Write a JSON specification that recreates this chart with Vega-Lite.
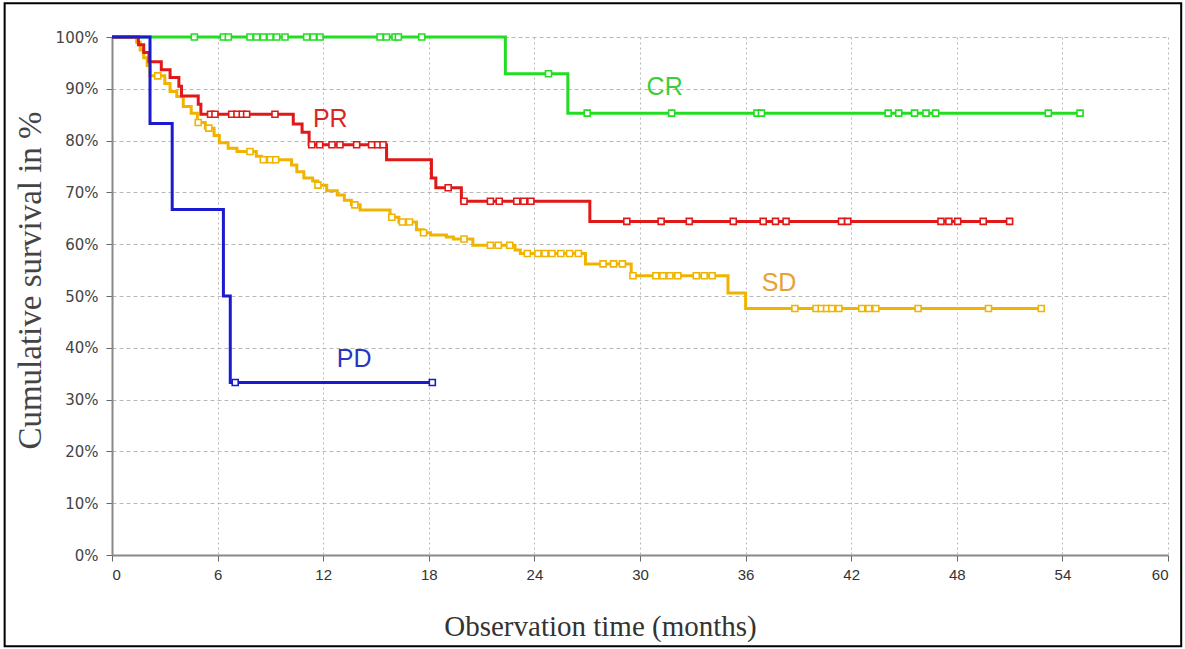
{
  "$schema": "https://vega.github.io/schema/vega-lite/v6.json",
  "width": 1056,
  "height": 518,
  "autosize": {"type": "none"},
  "padding": {"left": 112, "top": 37, "right": 17, "bottom": 94},
  "background": "white",
  "config": {"view": {"stroke": null}, "font": "Liberation Sans"},
  "datasets": {
    "curves": [
      {"group": "CR", "t": 0, "s": 100}, {"group": "CR", "t": 22.35, "s": 92.9}, {"group": "CR", "t": 25.9, "s": 85.3}, {"group": "CR", "t": 55.2, "s": 85.3},
      {"group": "SD", "t": 0, "s": 100}, {"group": "SD", "t": 1.4, "s": 99}, {"group": "SD", "t": 1.6, "s": 97.5}, {"group": "SD", "t": 1.8, "s": 96}, {"group": "SD", "t": 2.0, "s": 94.5}, {"group": "SD", "t": 2.16, "s": 92.5}, {"group": "SD", "t": 3.0, "s": 91}, {"group": "SD", "t": 3.3, "s": 89.5}, {"group": "SD", "t": 3.68, "s": 88.5}, {"group": "SD", "t": 4.05, "s": 86.6}, {"group": "SD", "t": 4.5, "s": 85.3}, {"group": "SD", "t": 4.85, "s": 83.5}, {"group": "SD", "t": 5.3, "s": 82.4}, {"group": "SD", "t": 5.8, "s": 81}, {"group": "SD", "t": 6.1, "s": 79.6}, {"group": "SD", "t": 6.6, "s": 78.5}, {"group": "SD", "t": 7.1, "s": 77.9}, {"group": "SD", "t": 8.2, "s": 77.0}, {"group": "SD", "t": 8.5, "s": 76.3}, {"group": "SD", "t": 10.2, "s": 75.3}, {"group": "SD", "t": 10.5, "s": 74.0}, {"group": "SD", "t": 10.9, "s": 72.8}, {"group": "SD", "t": 11.4, "s": 72.2}, {"group": "SD", "t": 11.7, "s": 71.4}, {"group": "SD", "t": 12.2, "s": 70.3}, {"group": "SD", "t": 12.8, "s": 69.5}, {"group": "SD", "t": 13.2, "s": 68.5}, {"group": "SD", "t": 13.6, "s": 67.6}, {"group": "SD", "t": 14.1, "s": 66.6}, {"group": "SD", "t": 15.8, "s": 65.2}, {"group": "SD", "t": 16.3, "s": 64.3}, {"group": "SD", "t": 17.3, "s": 62.8}, {"group": "SD", "t": 17.7, "s": 62.2}, {"group": "SD", "t": 18.1, "s": 61.8}, {"group": "SD", "t": 19.0, "s": 61.4}, {"group": "SD", "t": 19.4, "s": 61.0}, {"group": "SD", "t": 20.5, "s": 59.8}, {"group": "SD", "t": 22.9, "s": 58.9}, {"group": "SD", "t": 23.2, "s": 58.2}, {"group": "SD", "t": 26.9, "s": 56.2}, {"group": "SD", "t": 29.5, "s": 53.9}, {"group": "SD", "t": 35.0, "s": 50.6}, {"group": "SD", "t": 36.0, "s": 47.6}, {"group": "SD", "t": 53.0, "s": 47.6},
      {"group": "PR", "t": 0, "s": 100}, {"group": "PR", "t": 1.5, "s": 98.5}, {"group": "PR", "t": 1.8, "s": 97}, {"group": "PR", "t": 2.1, "s": 95.2}, {"group": "PR", "t": 2.8, "s": 93.7}, {"group": "PR", "t": 3.3, "s": 92.2}, {"group": "PR", "t": 3.8, "s": 90.5}, {"group": "PR", "t": 3.95, "s": 88.6}, {"group": "PR", "t": 4.9, "s": 87.0}, {"group": "PR", "t": 5.05, "s": 85.1}, {"group": "PR", "t": 10.3, "s": 83.2}, {"group": "PR", "t": 10.8, "s": 81.6}, {"group": "PR", "t": 11.2, "s": 79.2}, {"group": "PR", "t": 15.6, "s": 76.3}, {"group": "PR", "t": 18.15, "s": 72.8}, {"group": "PR", "t": 18.4, "s": 70.9}, {"group": "PR", "t": 19.85, "s": 68.3}, {"group": "PR", "t": 27.15, "s": 64.4}, {"group": "PR", "t": 51.1, "s": 64.4},
      {"group": "PD", "t": 0, "s": 100}, {"group": "PD", "t": 2.16, "s": 83.3}, {"group": "PD", "t": 3.42, "s": 66.7}, {"group": "PD", "t": 6.33, "s": 50}, {"group": "PD", "t": 6.72, "s": 33.3}, {"group": "PD", "t": 18.25, "s": 33.3}
    ],
    "censors": [
      {"group": "CR", "t": 4.68, "s": 100}, {"group": "CR", "t": 6.33, "s": 100}, {"group": "CR", "t": 6.61, "s": 100}, {"group": "CR", "t": 7.84, "s": 100}, {"group": "CR", "t": 8.22, "s": 100}, {"group": "CR", "t": 8.6, "s": 100}, {"group": "CR", "t": 8.98, "s": 100}, {"group": "CR", "t": 9.36, "s": 100}, {"group": "CR", "t": 9.83, "s": 100}, {"group": "CR", "t": 11.06, "s": 100}, {"group": "CR", "t": 11.44, "s": 100}, {"group": "CR", "t": 11.82, "s": 100}, {"group": "CR", "t": 15.23, "s": 100}, {"group": "CR", "t": 15.6, "s": 100}, {"group": "CR", "t": 16.08, "s": 100}, {"group": "CR", "t": 16.27, "s": 100}, {"group": "CR", "t": 17.6, "s": 100},
      {"group": "CR", "t": 24.8, "s": 92.9},
      {"group": "CR", "t": 27.0, "s": 85.3}, {"group": "CR", "t": 31.8, "s": 85.3}, {"group": "CR", "t": 36.65, "s": 85.3}, {"group": "CR", "t": 36.9, "s": 85.3}, {"group": "CR", "t": 44.1, "s": 85.3}, {"group": "CR", "t": 44.7, "s": 85.3}, {"group": "CR", "t": 45.6, "s": 85.3}, {"group": "CR", "t": 46.25, "s": 85.3}, {"group": "CR", "t": 46.8, "s": 85.3}, {"group": "CR", "t": 53.2, "s": 85.3}, {"group": "CR", "t": 55.0, "s": 85.3},
      {"group": "SD", "t": 2.6, "s": 92.5}, {"group": "SD", "t": 4.9, "s": 83.5}, {"group": "SD", "t": 5.5, "s": 82.4}, {"group": "SD", "t": 7.84, "s": 77.9}, {"group": "SD", "t": 8.6, "s": 76.3}, {"group": "SD", "t": 9.0, "s": 76.3}, {"group": "SD", "t": 9.3, "s": 76.3}, {"group": "SD", "t": 11.7, "s": 71.4}, {"group": "SD", "t": 13.8, "s": 67.6}, {"group": "SD", "t": 15.9, "s": 65.2}, {"group": "SD", "t": 16.5, "s": 64.3}, {"group": "SD", "t": 16.9, "s": 64.3}, {"group": "SD", "t": 17.7, "s": 62.2}, {"group": "SD", "t": 20.0, "s": 61.0}, {"group": "SD", "t": 21.5, "s": 59.8}, {"group": "SD", "t": 21.95, "s": 59.8}, {"group": "SD", "t": 22.6, "s": 59.8}, {"group": "SD", "t": 23.6, "s": 58.2}, {"group": "SD", "t": 24.2, "s": 58.2}, {"group": "SD", "t": 24.6, "s": 58.2}, {"group": "SD", "t": 25.0, "s": 58.2}, {"group": "SD", "t": 25.5, "s": 58.2}, {"group": "SD", "t": 26.0, "s": 58.2}, {"group": "SD", "t": 26.5, "s": 58.2}, {"group": "SD", "t": 27.9, "s": 56.2}, {"group": "SD", "t": 28.5, "s": 56.2}, {"group": "SD", "t": 29.0, "s": 56.2}, {"group": "SD", "t": 29.6, "s": 53.9}, {"group": "SD", "t": 30.9, "s": 53.9}, {"group": "SD", "t": 31.3, "s": 53.9}, {"group": "SD", "t": 31.7, "s": 53.9}, {"group": "SD", "t": 32.15, "s": 53.9}, {"group": "SD", "t": 33.2, "s": 53.9}, {"group": "SD", "t": 33.65, "s": 53.9}, {"group": "SD", "t": 34.1, "s": 53.9}, {"group": "SD", "t": 38.8, "s": 47.6}, {"group": "SD", "t": 40.0, "s": 47.6}, {"group": "SD", "t": 40.3, "s": 47.6}, {"group": "SD", "t": 40.6, "s": 47.6}, {"group": "SD", "t": 40.9, "s": 47.6}, {"group": "SD", "t": 41.3, "s": 47.6}, {"group": "SD", "t": 42.6, "s": 47.6}, {"group": "SD", "t": 43.0, "s": 47.6}, {"group": "SD", "t": 43.4, "s": 47.6}, {"group": "SD", "t": 45.8, "s": 47.6}, {"group": "SD", "t": 49.8, "s": 47.6}, {"group": "SD", "t": 52.8, "s": 47.6},
      {"group": "PR", "t": 5.6, "s": 85.1}, {"group": "PR", "t": 5.85, "s": 85.1}, {"group": "PR", "t": 6.8, "s": 85.1}, {"group": "PR", "t": 7.1, "s": 85.1}, {"group": "PR", "t": 7.4, "s": 85.1}, {"group": "PR", "t": 7.65, "s": 85.1}, {"group": "PR", "t": 9.26, "s": 85.1}, {"group": "PR", "t": 11.35, "s": 79.2}, {"group": "PR", "t": 11.8, "s": 79.2}, {"group": "PR", "t": 12.5, "s": 79.2}, {"group": "PR", "t": 12.95, "s": 79.2}, {"group": "PR", "t": 13.9, "s": 79.2}, {"group": "PR", "t": 14.75, "s": 79.2}, {"group": "PR", "t": 15.1, "s": 79.2}, {"group": "PR", "t": 15.4, "s": 79.2}, {"group": "PR", "t": 19.1, "s": 70.9}, {"group": "PR", "t": 20.0, "s": 68.3}, {"group": "PR", "t": 21.5, "s": 68.3}, {"group": "PR", "t": 22.0, "s": 68.3}, {"group": "PR", "t": 23.0, "s": 68.3}, {"group": "PR", "t": 23.4, "s": 68.3}, {"group": "PR", "t": 23.8, "s": 68.3}, {"group": "PR", "t": 29.25, "s": 64.4}, {"group": "PR", "t": 31.2, "s": 64.4}, {"group": "PR", "t": 32.8, "s": 64.4}, {"group": "PR", "t": 35.3, "s": 64.4}, {"group": "PR", "t": 37.0, "s": 64.4}, {"group": "PR", "t": 37.7, "s": 64.4}, {"group": "PR", "t": 38.3, "s": 64.4}, {"group": "PR", "t": 41.45, "s": 64.4}, {"group": "PR", "t": 41.8, "s": 64.4}, {"group": "PR", "t": 47.1, "s": 64.4}, {"group": "PR", "t": 47.55, "s": 64.4}, {"group": "PR", "t": 48.05, "s": 64.4}, {"group": "PR", "t": 49.5, "s": 64.4}, {"group": "PR", "t": 51.0, "s": 64.4},
      {"group": "PD", "t": 7.0, "s": 33.3}, {"group": "PD", "t": 18.2, "s": 33.3}
    ],
    "labels": [
      {"group": "CR", "t": 31.4, "s": 90.3},
      {"group": "PR", "t": 12.4, "s": 84.1},
      {"group": "SD", "t": 37.9, "s": 52.6},
      {"group": "PD", "t": 13.76, "s": 37.8}
    ]
  },
  "encoding": {
    "x": {
      "field": "t", "type": "quantitative",
      "scale": {"domain": [0, 60], "nice": false, "zero": false},
      "axis": {
        "values": [0, 6, 12, 18, 24, 30, 36, 42, 48, 54, 60],
        "title": "Observation time (months)",
        "titleFont": "Liberation Serif", "titleFontSize": 29, "titleFontWeight": "normal", "titleColor": "#333",
        "titleX": 488, "titleY": 57, "titleBaseline": "top", "titleAlign": "center",
        "labelFont": "Liberation Sans", "labelFontSize": 15, "labelColor": "#333", "labelPadding": 6,
        "tickSize": 6, "tickColor": "#666", "domainColor": "#888", "domainWidth": 2,
        "grid": true, "gridColor": "#b8b8b8", "gridDash": [2, 3], "gridWidth": 1
      }
    },
    "y": {
      "field": "s", "type": "quantitative",
      "scale": {"domain": [0, 100], "nice": false},
      "axis": {
        "values": [0, 10, 20, 30, 40, 50, 60, 70, 80, 90, 100],
        "labelExpr": "datum.value + '%'",
        "title": "Cumulative survival in %",
        "titleFont": "Liberation Serif", "titleFontSize": 33, "titleFontWeight": "normal", "titleColor": "#444",
        "titleAngle": 270, "titleX": -65, "titleY": 243, "titleAlign": "center", "titleBaseline": "bottom",
        "labelFont": "DejaVu Sans", "labelFontSize": 15, "labelColor": "#444", "labelPadding": 8,
        "tickSize": 6, "tickColor": "#666", "domainColor": "#888", "domainWidth": 2,
        "grid": true, "gridColor": "#b8b8b8", "gridDash": [4, 3], "gridWidth": 1
      }
    }
  },
  "layer": [
    {
      "data": {"values": [{"t": 0, "s": 0}]},
      "mark": {"type": "rect", "filled": false, "stroke": "black", "strokeWidth": 2, "clip": false},
      "encoding": {
        "x": {"datum": -6.1, "type": "quantitative"},
        "x2": {"datum": 60.75},
        "y": {"datum": 106.5, "type": "quantitative"},
        "y2": {"datum": -17.6}
      }
    },
    {
      "data": {"name": "curves"},
      "mark": {"type": "line", "interpolate": "step-after", "strokeWidth": 3},
      "encoding": {
        "stroke": {"field": "group", "type": "nominal", "legend": null,
          "scale": {"domain": ["CR", "SD", "PR", "PD"], "range": ["#22dd22", "#f0b400", "#e01818", "#1a1ad0"]}}
      }
    },
    {
      "data": {"name": "censors"},
      "mark": {"type": "point", "shape": "square", "size": 36, "filled": true, "fill": "white", "strokeWidth": 1.6, "opacity": 1},
      "encoding": {
        "stroke": {"field": "group", "type": "nominal", "legend": null}
      }
    },
    {
      "data": {"name": "labels"},
      "mark": {"type": "text", "font": "Liberation Sans", "fontSize": 25, "align": "center", "baseline": "middle"},
      "encoding": {
        "text": {"field": "group"},
        "fill": {"field": "group", "type": "nominal", "legend": null,
          "scale": {"domain": ["CR", "SD", "PR", "PD"], "range": ["#3ccc3c", "#e6a035", "#dd2424", "#2a35c0"]}}
      }
    }
  ]
}
